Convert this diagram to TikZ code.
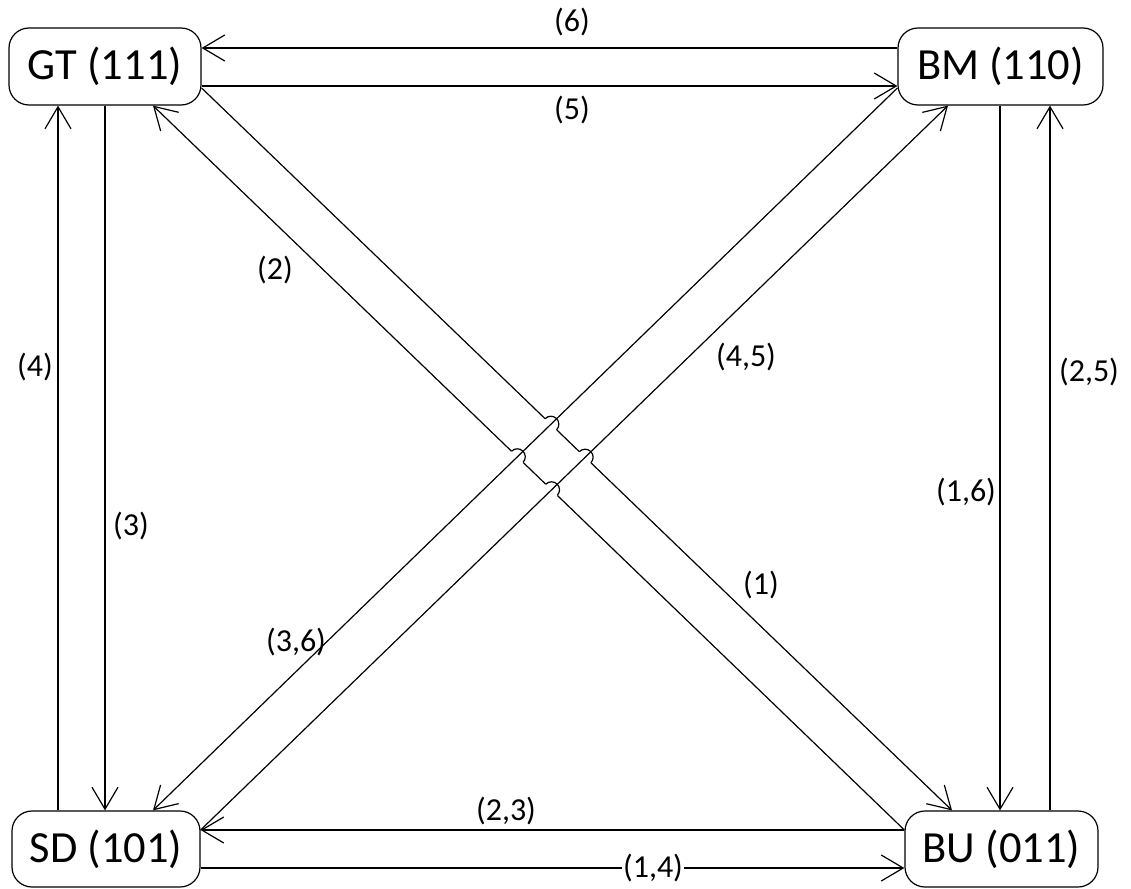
\documentclass[tikz,border=0pt]{standalone}
\usepackage{fontspec}
\setmainfont{Carlito}
\usetikzlibrary{arrows.meta,calc,intersections}
\begin{document}
\begin{tikzpicture}[x=1pt,y=-1pt,
  state/.style={draw, line width=1.2pt, rounded corners=20pt, inner sep=0pt,
    font=\fontsize{44.5}{50}\selectfont},
  edge/.style={line width=1.2pt, -{Straight Barb[length=22pt,width=26pt,line width=1.2pt]}},
  gap/.style={white, line width=5pt},
  jump/.style={line width=1.2pt},
  lbl/.style={font=\fontsize{32}{36}\selectfont, inner sep=1pt}]
\useasboundingbox (0,0) rectangle (1131,888);
\node[state, minimum width=192pt, minimum height=77pt] (GT) at (105,66.5) {GT (111)};
\node[state, minimum width=205pt, minimum height=77pt] (BM) at (1000.5,66.5) {BM (110)};
\node[state, minimum width=188pt, minimum height=76pt] (SD) at (106,849) {SD (101)};
\node[state, minimum width=193pt, minimum height=76pt] (BU) at (1001.5,849) {BU (011)};
% horizontal
\draw[edge] (BM.west |- 0,48) -- (GT.east |- 0,48);
\draw[edge] (GT.east |- 0,86) -- (BM.west |- 0,86);
\draw[edge] (BU.west |- 0,830) -- (SD.east |- 0,830);
\draw[edge] (SD.east |- 0,868) -- (BU.west |- 0,868);
% vertical
\draw[edge] (SD.north -| 58,0) -- (GT.south -| 58,0);
\draw[edge] (GT.south -| 105,0) -- (SD.north -| 105,0);
\draw[edge] (BM.south -| 1000,0) -- (BU.north -| 1000,0);
\draw[edge] (BU.north -| 1050,0) -- (BM.south -| 1050,0);
% diagonals (backslash direction, with jumps)
\draw[edge, name path=C] (GT.east |- 0,88) -- (BU.north -| 952,0);
\draw[edge, name path=D] (BU.west |- 0,830) -- (GT.south -| 153,0);
% diagonals (slash direction) paths
\path[name path=A] (BM.west |- 0,88) -- (SD.north -| 153,0);
\path[name path=B] (SD.east |- 0,830) -- (BM.south -| 948,0);
\path[name intersections={of=C and A, by=xCA}];
\path[name intersections={of=C and B, by=xCB}];
\path[name intersections={of=D and A, by=xDA}];
\path[name intersections={of=D and B, by=xDB}];
\foreach \p in {xCA,xCB,xDA,xDB}{
  \draw[gap] ($(\p)+(-5.8pt,5.6pt)$) -- ($(\p)+(5.8pt,-5.6pt)$);
  \draw[jump] ($(\p)+(-5.8pt,5.6pt)$) arc[start angle=136, end angle=-44, radius=8pt];
}
\draw[edge] (BM.west |- 0,88) -- (SD.north -| 153,0);
\draw[edge] (SD.east |- 0,830) -- (BM.south -| 948,0);
% labels
\node[lbl] (l6) at (572,22) {(6)};
\node[lbl] (l5) at (572,110) {(5)};
\node[lbl] (l4) at (35,367) {(4)};
\node[lbl] (l3) at (131,526) {(3)};
\node[lbl] (l2) at (275,270) {(2)};
\node[lbl] (l45) at (746,357) {(4,5)};
\node[lbl] (l25) at (1089,372) {(2,5)};
\node[lbl] (l16) at (966,492) {(1,6)};
\node[lbl] (l36) at (296,642) {(3,6)};
\node[lbl] (l23) at (506,811) {(2,3)};
\node[lbl, fill=white] (l14) at (653,868) {(1,4)};
\node[lbl] (l1) at (761,585) {(1)};
\end{tikzpicture}
\end{document}
